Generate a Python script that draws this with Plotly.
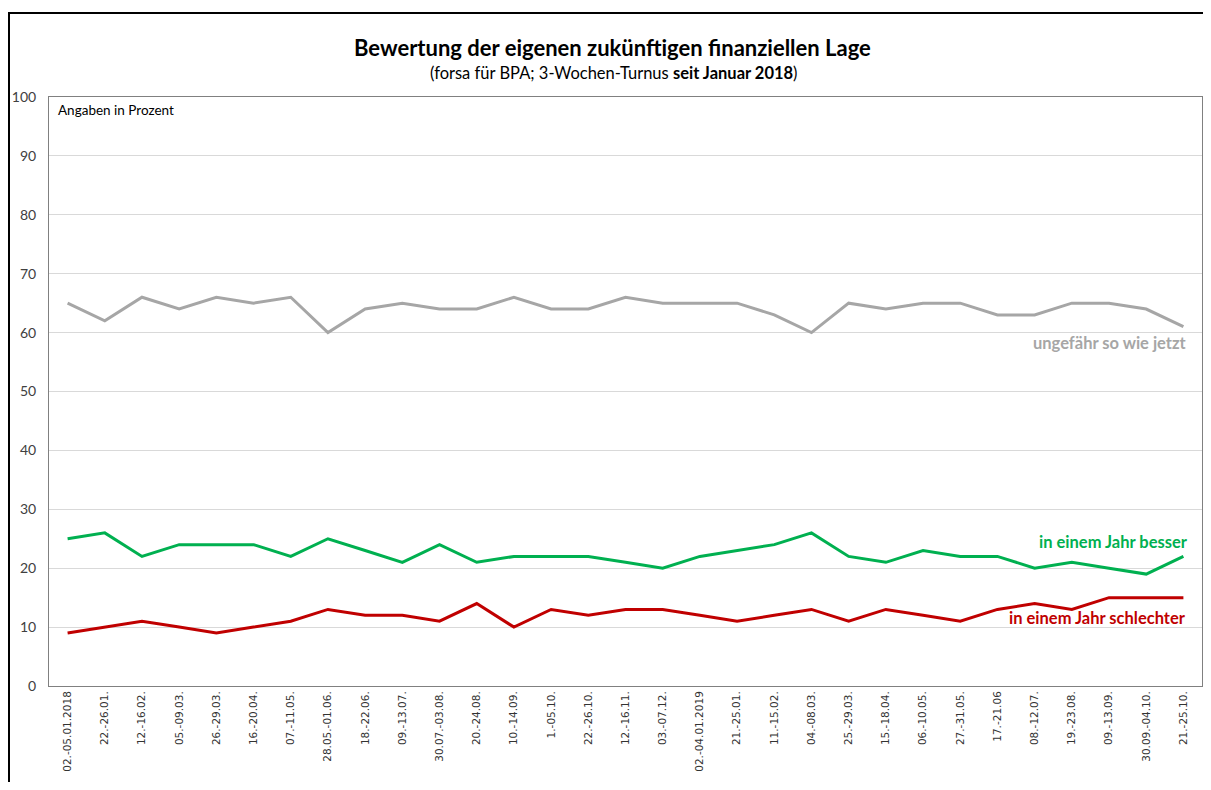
import plotly.graph_objects as go

categories = ["02.-05.01.2018", "22.-26.01.", "12.-16.02.", "05.-09.03.", "26.-29.03.", "16.-20.04.",
              "07.-11.05.", "28.05.-01.06.", "18.-22.06.", "09.-13.07.", "30.07.-03.08.", "20.-24.08.",
              "10.-14.09.", "1.-05.10.", "22.-26.10.", "12.-16.11.", "03.-07.12.", "02.-04.01.2019",
              "21.-25.01.", "11.-15.02.", "04.-08.03.", "25.-29.03.", "15.-18.04.", "06.-10.05.",
              "27.-31.05.", "17.-21.06", "08.-12.07.", "19.-23.08.", "09.-13.09.", "30.09.-04.10.",
              "21.-25.10."]
gleich = [65, 62, 66, 64, 66, 65, 66, 60, 64, 65, 64, 64, 66, 64, 64, 66, 65, 65, 65, 63, 60,
          65, 64, 65, 65, 63, 63, 65, 65, 64, 61]
besser = [25, 26, 22, 24, 24, 24, 22, 25, 23, 21, 24, 21, 22, 22, 22, 21, 20, 22, 23, 24, 26,
          22, 21, 23, 22, 22, 20, 21, 20, 19, 22]
schlechter = [9, 10, 11, 10, 9, 10, 11, 13, 12, 12, 11, 14, 10, 13, 12, 13, 13, 12, 11, 12, 13,
              11, 13, 12, 11, 13, 14, 13, 15, 15, 15]
y_ticks = [0, 10, 20, 30, 40, 50, 60, 70, 80, 90, 100]

GRAY = "#A6A6A6"
GREEN = "#00B050"
RED = "#C00000"
FONT = "Lato"

fig = go.Figure()
fig.add_trace(go.Scatter(x=categories, y=gleich, mode="lines", line=dict(color=GRAY, width=3),
                         name="ungefähr so wie jetzt"))
fig.add_trace(go.Scatter(x=categories, y=besser, mode="lines", line=dict(color=GREEN, width=3),
                         name="in einem Jahr besser"))
fig.add_trace(go.Scatter(x=categories, y=schlechter, mode="lines", line=dict(color=RED, width=3),
                         name="in einem Jahr schlechter"))

OFF = 8  # page body margin
W, H = 1211 - 2 * OFF, 790 - 2 * OFF
L = 49 - OFF
R = W - (1202 - OFF)
T = 97 - OFF
B = H - (686 - OFF)
pw, ph = W - L - R, H - T - B

def px(X):
    return (X - OFF - L) / pw

def py(Y):
    return (H - B - (Y - OFF)) / ph

frame = dict(color="black", width=2)

fig.update_layout(
    width=W, height=H,
    margin=dict(l=L, r=R, t=T, b=B, autoexpand=False),
    paper_bgcolor="white", plot_bgcolor="white",
    showlegend=False,
    font=dict(family=FONT, color="#404040"),
    xaxis=dict(type="category", range=[-0.5, len(categories) - 0.5], tickangle=-90, showgrid=False,
               automargin=False,
               tickfont=dict(family="DejaVu Sans", size=10.5, color="#333333"),
               showline=True, linecolor="#808080", linewidth=1, mirror=True,
               ticks="", fixedrange=True),
    yaxis=dict(range=[0, 100], tickvals=y_ticks, showgrid=True, gridcolor="#D9D9D9", gridwidth=1,
               automargin=False,
               zeroline=False, tickfont=dict(family=FONT, size=14, color="#404040"),
               showline=True, linecolor="#808080", linewidth=1, mirror=True,
               ticks="outside", ticklen=9, tickcolor="rgba(0,0,0,0)", fixedrange=True),
    shapes=[
        dict(type="line", xref="paper", yref="paper", x0=px(9), x1=px(9), y0=py(800), y1=py(13),
             line=frame, layer="above"),
        dict(type="line", xref="paper", yref="paper", x0=px(8), x1=px(1215), y0=py(13), y1=py(13),
             line=frame, layer="above"),
    ],
    annotations=[
        dict(text="<b>Bewertung der eigenen zukünftigen finanziellen Lage</b>", xref="paper", yref="paper",
             x=px(612), y=py(48), xanchor="center", yanchor="middle", showarrow=False,
             font=dict(family=FONT, size=22, color="black")),
        dict(text="(forsa für BPA; 3-Wochen-Turnus <b>seit Januar 2018</b>)", xref="paper", yref="paper",
             x=px(614), y=py(73), xanchor="center", yanchor="middle", showarrow=False,
             font=dict(family=FONT, size=16.5, color="black")),
        dict(text="Angaben in Prozent", xref="paper", yref="paper", x=px(56), y=py(110),
             xanchor="left", yanchor="middle", showarrow=False,
             font=dict(family=FONT, size=13.5, color="black")),
        dict(text="<b>ungefähr so wie jetzt</b>", xref="paper", yref="paper", x=px(1189), y=py(343),
             xanchor="right", yanchor="middle", showarrow=False, font=dict(family=FONT, size=16.5, color=GRAY)),
        dict(text="<b>in einem Jahr besser</b>", xref="paper", yref="paper", x=px(1190), y=py(542),
             xanchor="right", yanchor="middle", showarrow=False, font=dict(family=FONT, size=16.5, color=GREEN)),
        dict(text="<b>in einem Jahr schlechter</b>", xref="paper", yref="paper", x=px(1188), y=py(618),
             xanchor="right", yanchor="middle", showarrow=False, font=dict(family=FONT, size=16.5, color=RED)),
    ],
)

fig.write_html("out.html")
